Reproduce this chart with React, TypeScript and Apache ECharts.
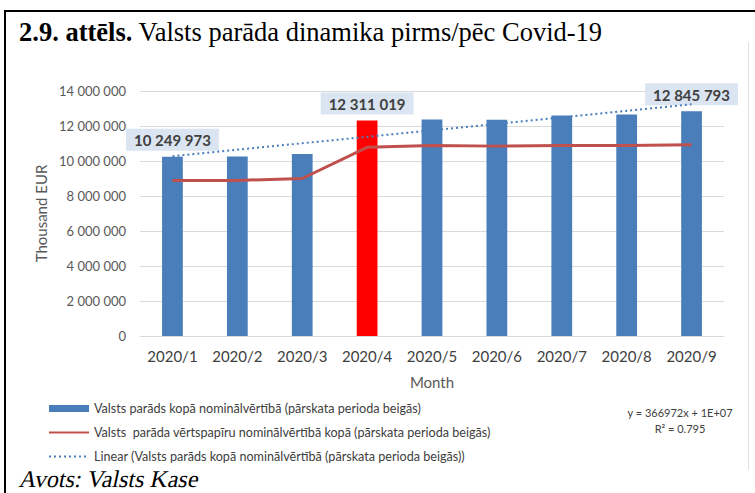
import React, { useEffect, useRef } from "react";
import * as echarts from "echarts";

const months = ["2020/1", "2020/2", "2020/3", "2020/4", "2020/5", "2020/6", "2020/7", "2020/8", "2020/9"];
const totalDebt = [10249973, 10260000, 10400000, 12311019, 12370000, 12360000, 12600000, 12660000, 12845793];
const securitiesDebt = [8880000, 8890000, 9000000, 10780000, 10880000, 10850000, 10880000, 10890000, 10930000];
const trendLine = [10270000, null, null, null, null, null, null, null, 13240000];
const labeledMonths = ["2020/1", "2020/4", "2020/9"];
const highlightMonth = "2020/4";
const yMin = 0;
const yMax = 14000000;
const yStep = 2000000;

const seriesNames = [
  "Valsts parāds kopā nominālvērtībā (pārskata perioda beigās)",
  "Valsts  parāda vērtspapīru nominālvērtībā kopā (pārskata perioda beigās)",
  "Linear (Valsts parāds kopā nominālvērtībā (pārskata perioda beigās))",
];
const equationLines = ["y = 366972x + 1E+07", "R² = 0.795"];
const titleBold = "2.9. attēls.";
const titleRest = " Valsts parāda dinamika pirms/pēc Covid-19";
const sourceText = "Avots: Valsts Kase";

const fmt = (v: number) => String(Math.round(v)).replace(/\B(?=(\d{3})+(?!\d))/g, " ");

const FONT = "Lato, 'Open Sans', sans-serif";
const SERIF = "'Liberation Serif', 'Times New Roman', serif";

export default function App() {
  const ref = useRef<HTMLDivElement>(null);
  useEffect(() => {
    if (!ref.current) return;
    const chart = echarts.init(ref.current, null, { renderer: "svg" });
    chart.setOption({
      animation: false,
      backgroundColor: "#ffffff",
      textStyle: { fontFamily: FONT },
      title: [
        {
          text: `{b|${titleBold}}{r|${titleRest}}`,
          left: 14,
          top: 13,
          textStyle: {
            fontFamily: SERIF,
            fontSize: 26.5,
            color: "#000",
            rich: {
              b: { fontFamily: SERIF, fontSize: 26.5, fontWeight: "bold", color: "#000" },
              r: { fontFamily: SERIF, fontSize: 26.5, fontWeight: "normal", color: "#000" },
            },
          },
        },
      ],
      grid: { left: 140, right: 31, top: 91, bottom: 157 },
      legend: {
        orient: "vertical",
        left: 43,
        top: 397,
        itemWidth: 40,
        itemHeight: 7,
        itemGap: 11,
        textStyle: { fontSize: 12.6, color: "#404040", fontFamily: FONT },
        data: [
          { name: seriesNames[0], icon: "rect" },
          { name: seriesNames[1], itemStyle: { opacity: 0 } },
          { name: seriesNames[2], itemStyle: { opacity: 0 } },
        ],
      },
      xAxis: {
        type: "category",
        data: months,
        axisTick: { show: false },
        axisLine: { lineStyle: { color: "#d9d9d9", width: 1 } },
        axisLabel: { fontSize: 15, color: "#404040", margin: 12, interval: 0 },
        name: "Month",
        nameLocation: "middle",
        nameGap: 38,
        nameTextStyle: { fontSize: 15, color: "#595959" },
      },
      yAxis: {
        type: "value",
        min: yMin,
        max: yMax,
        interval: yStep,
        axisLine: { show: false },
        axisTick: { show: false },
        splitLine: { lineStyle: { color: "#d9d9d9", width: 1 } },
        axisLabel: { fontSize: 13, color: "#595959", margin: 14, formatter: (v: number) => fmt(v) },
        name: "Thousand EUR",
        nameLocation: "middle",
        nameGap: 77,
        nameRotate: 90,
        nameTextStyle: { fontSize: 15, color: "#595959" },
      },
      series: [
        {
          name: seriesNames[0],
          type: "bar",
          barWidth: "32%",
          itemStyle: { color: "#4a7ebb" },
          data: totalDebt.map((v, i) => ({
            value: v,
            itemStyle: months[i] === highlightMonth ? { color: "#ff0000" } : undefined,
            label: labeledMonths.includes(months[i])
              ? {
                  show: true,
                  position: "top",
                  distance: 6,
                  formatter: () => fmt(v),
                  fontSize: 15,
                  fontWeight: "bold",
                  color: "#404040",
                  backgroundColor: "#dbe5f1",
                  padding: [4, 8, 3, 8],
                }
              : { show: false },
          })),
          z: 2,
        },
        {
          name: seriesNames[1],
          type: "line",
          data: securitiesDebt,
          symbol: "none",
          showSymbol: false,
          lineStyle: { color: "#c0504d", width: 3 },
          itemStyle: { color: "#c0504d" },
          z: 3,
        },
        {
          name: seriesNames[2],
          type: "line",
          data: trendLine,
          connectNulls: true,
          symbol: "none",
          showSymbol: false,
          lineStyle: { color: "#4a7ebb", width: 2, type: [2, 3] },
          itemStyle: { color: "#4a7ebb" },
          z: 4,
        },
      ],
      graphic: [
        {
          type: "line",
          shape: { x1: 5, y1: 11, x2: 755, y2: 11 },
          style: { stroke: "#000", lineWidth: 2 },
        },
        {
          type: "line",
          shape: { x1: 5, y1: 10, x2: 5, y2: 493 },
          style: { stroke: "#000", lineWidth: 2 },
        },
        {
          type: "line",
          shape: { x1: 748.5, y1: 42, x2: 748.5, y2: 470 },
          style: { stroke: "#e0e0e0", lineWidth: 1 },
        },
        {
          type: "text",
          x: 20,
          y: 479,
          skewX: -0.21,
          style: {
            text: `{s|${sourceText}}`,
            textVerticalAlign: "middle",
            rich: {
              s: { fontFamily: SERIF, fontSize: 24, fontWeight: "normal", color: "#000" },
            },
          },
        },
        {
          type: "text",
          x: 680,
          y: 412,
          style: {
            text: equationLines[0],
            fontFamily: FONT,
            fontSize: 11,
            fill: "#404040",
            textAlign: "center",
            textVerticalAlign: "middle",
          },
        },
        {
          type: "text",
          x: 680,
          y: 428,
          style: {
            text: equationLines[1],
            fontFamily: FONT,
            fontSize: 11,
            fill: "#404040",
            textAlign: "center",
            textVerticalAlign: "middle",
          },
        },
      ],
    });
    return () => chart.dispose();
  }, []);
  return (
    <div
      ref={ref}
      style={{ position: "fixed", left: 0, top: 0, width: 755, height: 493, background: "#fff" }}
    />
  );
}
